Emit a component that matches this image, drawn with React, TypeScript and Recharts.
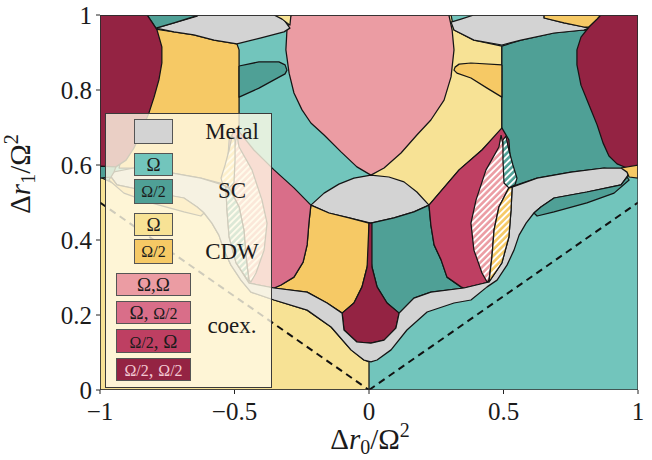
import { ComposedChart, Scatter, XAxis, YAxis } from 'recharts';

type Poly = number[][];

// fill colours of the phases
const C = {
  metal: '#d3d3d3',
  scFull: '#72c5bc',
  scHalf: '#4fa096',
  cdwFull: '#f7e295',
  cdwHalf: '#f6c965',
  coexFF: '#eb9ca3',
  coexFH: '#d96e89',
  coexHF: '#be3f62',
  coexHH: '#942343',
};

// region outlines in (Δr0/Ω², Δr1/Ω²)
const plotFrame: Poly = [[-1, 0], [1, 0], [1, 1], [-1, 1]];

const cdwFullLow: Poly = [[-1, 0.568], [-0.937, 0.547], [-0.81, 0.528], [-0.688, 0.512], [-0.613, 0.472], [-0.584, 0.445], [-0.558, 0.413], [-0.539, 0.373], [-0.513, 0.333], [-0.476, 0.293], [-0.439, 0.261], [-0.353, 0.24], [-0.23, 0.213], [-0.141, 0.168], [-0.067, 0.107], [-0.019, 0.08], [0, 0.075], [0, 0], [-1, 0]];
const cdwFullTop: Poly = [[0.007, 1], [0.305, 1], [0.316, 0.96], [0.39, 0.933], [0.494, 0.917], [0.494, 0.693], [0.42, 0.64], [0.335, 0.587], [0.223, 0.493], [0.007, 0.56]];
const scHalfTop: Poly = [[0.494, 0.917], [0.565, 0.933], [0.688, 0.952], [0.799, 0.96], [1, 0.96], [1, 0.587], [0.959, 0.581], [0.874, 0.592], [0.751, 0.581], [0.625, 0.565], [0.55, 0.547], [0.52, 0.539], [0.502, 0.552], [0.494, 0.667]];
const cdwHalfTop: Poly = [[-0.818, 0.965], [-0.725, 0.955], [-0.651, 0.947], [-0.576, 0.933], [-0.491, 0.923], [-0.483, 0.907], [-0.483, 0.68], [-0.498, 0.64], [-0.528, 0.547], [-0.625, 0.565], [-0.751, 0.581], [-0.874, 0.592], [-0.929, 0.592]];
const coexFFDrop: Poly = [[-0.29, 1], [0.297, 1], [0.309, 0.96], [0.316, 0.907], [0.305, 0.835], [0.279, 0.773], [0.23, 0.72], [0.178, 0.68], [0.119, 0.632], [0.056, 0.592], [0.007, 0.573], [-0.045, 0.595], [-0.104, 0.635], [-0.167, 0.68], [-0.216, 0.712], [-0.249, 0.747], [-0.279, 0.792], [-0.297, 0.845], [-0.309, 0.907], [-0.305, 0.96]];
const metalTopL: Poly = [[-0.792, 0.965], [-0.725, 0.979], [-0.639, 0.997], [-0.639, 1], [-0.342, 1], [-0.316, 0.987], [-0.294, 0.965], [-0.316, 0.955], [-0.401, 0.939], [-0.491, 0.923], [-0.576, 0.933], [-0.651, 0.947], [-0.725, 0.955]];
const metalTopR: Poly = [[0.305, 0.981], [0.342, 0.989], [0.39, 1], [0.651, 1], [0.651, 0.992], [0.725, 0.979], [0.799, 0.968], [0.818, 0.965], [0.799, 0.96], [0.688, 0.952], [0.565, 0.933], [0.494, 0.92], [0.39, 0.933], [0.316, 0.96]];
const scHalfSliver: Poly = [[-0.825, 1], [-0.632, 1], [-0.725, 0.979], [-0.792, 0.965], [-0.807, 0.981]];
const cdwFullSliver: Poly = [[-0.353, 1], [-0.29, 1], [-0.294, 0.973], [-0.323, 0.989]];
const cdwHalfSliver: Poly = [[0.651, 1], [0.862, 1], [0.848, 0.989], [0.818, 0.968], [0.799, 0.968], [0.725, 0.979], [0.651, 0.992]];
const scHalfLobeTop: Poly = [[-0.483, 0.864], [-0.409, 0.875], [-0.335, 0.875], [-0.312, 0.867], [-0.305, 0.853], [-0.312, 0.843], [-0.353, 0.827], [-0.409, 0.805], [-0.483, 0.781]];
const cdwHalfLobeTop: Poly = [[0.494, 0.867], [0.379, 0.872], [0.335, 0.869], [0.32, 0.861], [0.316, 0.853], [0.327, 0.845], [0.379, 0.832], [0.439, 0.805], [0.494, 0.781]];
const coexHHLeft: Poly = [[-1, 1], [-0.825, 1], [-0.807, 0.981], [-0.788, 0.96], [-0.77, 0.915], [-0.77, 0.872], [-0.781, 0.827], [-0.799, 0.781], [-0.818, 0.739], [-0.844, 0.693], [-0.874, 0.645], [-0.903, 0.613], [-0.941, 0.595], [-1, 0.592]];
const coexHHRight: Poly = [[0.862, 1], [1, 1], [1, 0.597], [0.959, 0.592], [0.922, 0.603], [0.892, 0.624], [0.87, 0.659], [0.848, 0.707], [0.818, 0.76], [0.788, 0.813], [0.773, 0.867], [0.773, 0.907], [0.788, 0.941], [0.818, 0.968], [0.848, 0.989]];
const metalMid: Poly = [[-0.216, 0.493], [-0.167, 0.525], [-0.112, 0.549], [-0.056, 0.565], [0.007, 0.573], [0.074, 0.568], [0.13, 0.555], [0.178, 0.528], [0.223, 0.493], [0.167, 0.475], [0.093, 0.459], [0.007, 0.445], [-0.074, 0.459], [-0.149, 0.472]];
const cdwHalfMid: Poly = [[-0.216, 0.493], [-0.149, 0.472], [-0.074, 0.459], [0, 0.445], [0, 0.347], [-0.007, 0.328], [-0.026, 0.275], [-0.056, 0.232], [-0.1, 0.205], [-0.156, 0.232], [-0.23, 0.261], [-0.353, 0.272], [-0.327, 0.28], [-0.279, 0.301], [-0.245, 0.341], [-0.23, 0.387], [-0.223, 0.448]];
const scHalfMid: Poly = [[0.223, 0.493], [0.167, 0.475], [0.093, 0.459], [0.007, 0.445], [0.007, 0.347], [0.011, 0.328], [0.03, 0.275], [0.067, 0.232], [0.112, 0.205], [0.167, 0.245], [0.23, 0.261], [0.353, 0.272], [0.342, 0.275], [0.29, 0.301], [0.268, 0.347], [0.242, 0.387], [0.23, 0.44]];
const coexHHDrop: Poly = [[0, 0.445], [0.011, 0.445], [0.011, 0.328], [0.03, 0.275], [0.067, 0.232], [0.112, 0.205], [0.1, 0.165], [0.056, 0.133], [0.007, 0.125], [-0.045, 0.128], [-0.093, 0.16], [-0.1, 0.205], [-0.056, 0.232], [-0.026, 0.275], [-0.007, 0.328]];
const coexHFRight: Poly = [[0.494, 0.699], [0.52, 0.667], [0.532, 0.541], [0.52, 0.408], [0.494, 0.339], [0.446, 0.288], [0.353, 0.272], [0.342, 0.275], [0.29, 0.301], [0.268, 0.347], [0.242, 0.387], [0.23, 0.44], [0.223, 0.493], [0.335, 0.587], [0.42, 0.64]];
const coexFHLeft: Poly = [[-0.494, 0.699], [-0.52, 0.667], [-0.532, 0.541], [-0.52, 0.408], [-0.494, 0.339], [-0.446, 0.285], [-0.353, 0.272], [-0.327, 0.28], [-0.279, 0.301], [-0.245, 0.341], [-0.23, 0.387], [-0.223, 0.448], [-0.216, 0.493], [-0.279, 0.539], [-0.353, 0.587], [-0.428, 0.64]];
const metalLow: Poly = [
  [-0.967, 0.579], [-0.874, 0.592], [-0.751, 0.581], [-0.625, 0.565], [-0.532, 0.544], [-0.528, 0.48], [-0.52, 0.408], [-0.494, 0.339], [-0.446, 0.285], [-0.353, 0.272], [-0.23, 0.261], [-0.156, 0.232], [-0.1, 0.205], [-0.093, 0.16], [-0.045, 0.128], [0.007, 0.125], [0.056, 0.133], [0.1, 0.165], [0.112, 0.205], [0.167, 0.245], [0.23, 0.261], [0.353, 0.272], [0.446, 0.288], [0.494, 0.339], [0.52, 0.408], [0.528, 0.48], [0.532, 0.541], [0.625, 0.565], [0.751, 0.581], [0.874, 0.592], [0.948, 0.592], [0.967, 0.581],
  [0.959, 0.568], [0.937, 0.547], [0.81, 0.528], [0.688, 0.512], [0.639, 0.488], [0.613, 0.472], [0.584, 0.445], [0.558, 0.413], [0.539, 0.373], [0.513, 0.333], [0.476, 0.293], [0.439, 0.275], [0.379, 0.24], [0.316, 0.232], [0.216, 0.208], [0.141, 0.16], [0.082, 0.107], [0.03, 0.08], [0.007, 0.075], [-0.019, 0.08], [-0.067, 0.107], [-0.141, 0.168], [-0.23, 0.213], [-0.353, 0.24], [-0.439, 0.261], [-0.476, 0.293], [-0.513, 0.333], [-0.539, 0.373], [-0.558, 0.413], [-0.584, 0.445], [-0.613, 0.472], [-0.639, 0.488], [-0.688, 0.512], [-0.81, 0.528], [-0.937, 0.547], [-0.959, 0.568],
];
const scHalfLobeLow: Poly = [[0.613, 0.472], [0.639, 0.488], [0.688, 0.512], [0.81, 0.528], [0.937, 0.547], [0.959, 0.568], [0.967, 0.56], [0.911, 0.525], [0.81, 0.499], [0.688, 0.475], [0.625, 0.464]];
const cdwHalfLobeLow: Poly = [[-0.613, 0.472], [-0.639, 0.488], [-0.688, 0.512], [-0.81, 0.528], [-0.937, 0.547], [-0.959, 0.568], [-0.967, 0.56], [-0.911, 0.525], [-0.81, 0.499], [-0.688, 0.475], [-0.625, 0.464]];
const scHalfEdge: Poly = [[-1, 0.597], [-0.941, 0.595], [-0.948, 0.581], [-0.959, 0.568], [-1, 0.565]];
const cdwHalfEdge: Poly = [[0.937, 0.592], [1, 0.6], [1, 0.565], [0.967, 0.568], [0.959, 0.581]];

// hatched pockets (superconducting order on top of a coexistence phase)
const coexFFHatchR: Poly = [[0.491, 0.68], [0.502, 0.64], [0.509, 0.587], [0.52, 0.539], [0.483, 0.488], [0.465, 0.427], [0.457, 0.355], [0.446, 0.293], [0.439, 0.288], [0.42, 0.312], [0.39, 0.373], [0.379, 0.445], [0.398, 0.507], [0.435, 0.587], [0.483, 0.648]];
const cdwHalfHatchR: Poly = [[0.52, 0.539], [0.532, 0.541], [0.528, 0.48], [0.52, 0.408], [0.494, 0.339], [0.446, 0.288], [0.457, 0.355], [0.465, 0.427], [0.483, 0.488]];
const scHalfHatchR: Poly = [[0.498, 0.667], [0.509, 0.677], [0.52, 0.64], [0.535, 0.6], [0.55, 0.565], [0.543, 0.547], [0.52, 0.539], [0.502, 0.552], [0.498, 0.613]];
const coexFFHatchL: Poly = [[-0.491, 0.68], [-0.502, 0.64], [-0.509, 0.587], [-0.52, 0.539], [-0.483, 0.488], [-0.465, 0.427], [-0.457, 0.355], [-0.446, 0.293], [-0.439, 0.288], [-0.42, 0.312], [-0.39, 0.373], [-0.379, 0.445], [-0.398, 0.507], [-0.435, 0.587], [-0.483, 0.648]];
const scHalfHatchL: Poly = [[-0.52, 0.539], [-0.532, 0.541], [-0.528, 0.48], [-0.52, 0.408], [-0.494, 0.339], [-0.446, 0.288], [-0.457, 0.355], [-0.465, 0.427], [-0.483, 0.488]];
const cdwHalfHatchL: Poly = [[-0.498, 0.667], [-0.509, 0.677], [-0.52, 0.64], [-0.535, 0.6], [-0.55, 0.565], [-0.543, 0.547], [-0.52, 0.539], [-0.502, 0.552], [-0.498, 0.613]];

// |Δr0| = 2 Δr1 guide lines
const guideLeft: Poly = [[-1, 0.5], [0, 0]];
const guideRight: Poly = [[0, 0], [1, 0.5]];

const xTicks = [-1, -0.5, 0, 0.5, 1];
const yTicks = [0, 0.2, 0.4, 0.6, 0.8, 1];

const layers: { id: string; pts: Poly; fill: string; edge?: boolean }[] = [
  { id: 'scFullBack', pts: plotFrame, fill: C.scFull, edge: false },
  { id: 'cdwFullLow', pts: cdwFullLow, fill: C.cdwFull },
  { id: 'cdwFullTop', pts: cdwFullTop, fill: C.cdwFull },
  { id: 'scHalfTop', pts: scHalfTop, fill: C.scHalf },
  { id: 'cdwHalfTop', pts: cdwHalfTop, fill: C.cdwHalf },
  { id: 'coexFFDrop', pts: coexFFDrop, fill: C.coexFF },
  { id: 'metalTopL', pts: metalTopL, fill: C.metal },
  { id: 'metalTopR', pts: metalTopR, fill: C.metal },
  { id: 'scHalfSliver', pts: scHalfSliver, fill: C.scHalf },
  { id: 'cdwFullSliver', pts: cdwFullSliver, fill: C.cdwFull },
  { id: 'cdwHalfSliver', pts: cdwHalfSliver, fill: C.cdwHalf },
  { id: 'scHalfLobeTop', pts: scHalfLobeTop, fill: C.scHalf },
  { id: 'cdwHalfLobeTop', pts: cdwHalfLobeTop, fill: C.cdwHalf },
  { id: 'coexHHLeft', pts: coexHHLeft, fill: C.coexHH },
  { id: 'coexHHRight', pts: coexHHRight, fill: C.coexHH },
  { id: 'metalMid', pts: metalMid, fill: C.metal },
  { id: 'cdwHalfMid', pts: cdwHalfMid, fill: C.cdwHalf },
  { id: 'scHalfMid', pts: scHalfMid, fill: C.scHalf },
  { id: 'coexHHDrop', pts: coexHHDrop, fill: C.coexHH },
  { id: 'coexHFRight', pts: coexHFRight, fill: C.coexHF },
  { id: 'coexFHLeft', pts: coexFHLeft, fill: C.coexFH },
  { id: 'metalLow', pts: metalLow, fill: C.metal },
  { id: 'scHalfLobeLow', pts: scHalfLobeLow, fill: C.scHalf },
  { id: 'cdwHalfLobeLow', pts: cdwHalfLobeLow, fill: C.cdwHalf },
  { id: 'scHalfEdge', pts: scHalfEdge, fill: C.scHalf },
  { id: 'cdwHalfEdge', pts: cdwHalfEdge, fill: C.cdwHalf },
  { id: 'coexFFHatchR', pts: coexFFHatchR, fill: 'url(#hatch-coexFF)' },
  { id: 'cdwHalfHatchR', pts: cdwHalfHatchR, fill: 'url(#hatch-cdwHalf)' },
  { id: 'scHalfHatchR', pts: scHalfHatchR, fill: 'url(#hatch-scHalf)' },
  { id: 'coexFFHatchL', pts: coexFFHatchL, fill: 'url(#hatch-coexFF)' },
  { id: 'scHalfHatchL', pts: scHalfHatchL, fill: 'url(#hatch-scHalf)' },
  { id: 'cdwHalfHatchL', pts: cdwHalfHatchL, fill: 'url(#hatch-cdwHalf)' },
];

const toPts = (p: Poly) => [...p, p[0]].map(([x, y]) => ({ x, y }));
const noDot = () => <g />;
const fmtX = (v: number) => (v < 0 ? `\u2212${Math.abs(v)}` : `${v}`);

const serif = '"Liberation Serif", "DejaVu Serif", serif';

const hatches = [
  { id: 'hatch-coexFF', color: C.coexFF },
  { id: 'hatch-cdwHalf', color: C.cdwHalf },
  { id: 'hatch-scHalf', color: C.scHalf },
];

const legendPatches = [
  { top: 5, left: 28, w: 39, h: 25, fill: C.metal, text: null },
  { top: 39, left: 28, w: 39, h: 23, fill: C.scFull, text: ['Ω'] },
  { top: 65, left: 28, w: 39, h: 25, fill: C.scHalf, text: ['Ω/2'] },
  { top: 99, left: 28, w: 39, h: 23, fill: C.cdwFull, text: ['Ω'] },
  { top: 125, left: 28, w: 39, h: 25, fill: C.cdwHalf, text: ['Ω/2'] },
  { top: 159, left: 10, w: 75, h: 23, fill: C.coexFF, text: ['Ω,Ω'] },
  { top: 187, left: 10, w: 75, h: 23, fill: C.coexFH, text: ['Ω, ', 'Ω/2'] },
  { top: 215, left: 10, w: 75, h: 24, fill: C.coexHF, text: ['Ω/2', ', Ω'] },
  { top: 244, left: 10, w: 75, h: 23, fill: C.coexHH, text: ['Ω/2', ', ', 'Ω/2'], light: true },
];

const legendLabels = [
  { top: 18, text: 'Metal' },
  { top: 77, text: 'SC' },
  { top: 138, text: 'CDW' },
  { top: 212, text: 'coex.' },
];

function PatchText({ parts, light }: { parts: string[]; light?: boolean }) {
  return (
    <span style={{ color: light ? '#f3c9d3' : '#1b1b1b', fontFamily: serif, whiteSpace: 'pre' }}>
      {parts.map((p, i) => (
        <span key={i} style={{ fontSize: p === 'Ω/2' ? 16 : 19 }}>{p}</span>
      ))}
    </span>
  );
}

export default function App() {
  return (
    <div style={{ position: 'absolute', left: 0, top: 0, width: 652, height: 460, background: '#fff' }}>
      <svg width={0} height={0} style={{ position: 'absolute' }}>
        <defs>
          {hatches.map((h) => (
            <pattern key={h.id} id={h.id} patternUnits="userSpaceOnUse" width={4.5} height={4.5} patternTransform="rotate(-45)">
              <rect width={4.5} height={4.5} fill={h.color} />
              <rect width={4.5} height={1.9} fill="#ffffff" />
            </pattern>
          ))}
        </defs>
      </svg>
      <ComposedChart width={652} height={460} margin={{ top: 15, right: 14, bottom: 30, left: 40 }}>
        <XAxis
          type="number"
          dataKey="x"
          domain={[-1, 1]}
          allowDataOverflow
          ticks={xTicks}
          tickFormatter={fmtX}
          axisLine={false}
          tickLine={{ stroke: '#222' }}
          tickSize={4}
          tickMargin={8}
          height={40}
          tick={{ fontFamily: serif, fontSize: 25, fill: '#1b1b1b' }}
        />
        <YAxis
          type="number"
          dataKey="y"
          domain={[0, 1]}
          allowDataOverflow
          ticks={yTicks}
          axisLine={false}
          tickLine={{ stroke: '#222' }}
          tickSize={4}
          tickMargin={4}
          width={60}
          tick={{ fontFamily: serif, fontSize: 25, fill: '#1b1b1b' }}
        />
        {layers.map((l) => (
          <Scatter
            key={l.id}
            name={l.id}
            data={toPts(l.pts)}
            shape={noDot}
            line={{ fill: l.fill, stroke: l.edge === false ? 'none' : '#151515', strokeWidth: 1.25, strokeLinejoin: 'round' }}
            lineType="joint"
            isAnimationActive={false}
          />
        ))}
        <Scatter
          data={guideLeft.map(([x, y]) => ({ x, y }))}
          shape={noDot}
          line={{ stroke: '#111', strokeWidth: 2, strokeDasharray: '7 5' }}
          isAnimationActive={false}
        />
        <Scatter
          data={guideRight.map(([x, y]) => ({ x, y }))}
          shape={noDot}
          line={{ stroke: '#111', strokeWidth: 2, strokeDasharray: '7 5' }}
          isAnimationActive={false}
        />
        <Scatter
          data={toPts(plotFrame)}
          shape={noDot}
          line={{ fill: 'none', stroke: '#333', strokeWidth: 1.3 }}
          isAnimationActive={false}
        />
      </ComposedChart>

      {/* legend box */}
      <div
        style={{
          position: 'absolute',
          left: 105,
          top: 113,
          width: 167,
          height: 275,
          boxSizing: 'border-box',
          border: '1.3px solid #3a3a3a',
          background: 'rgba(255, 250, 230, 0.8)',
        }}
      >
        {legendPatches.map((p, i) => (
          <div
            key={i}
            style={{
              position: 'absolute',
              left: p.left,
              top: p.top,
              width: p.w,
              height: p.h,
              boxSizing: 'border-box',
              border: '1px solid #555',
              background: p.fill,
              display: 'flex',
              alignItems: 'center',
              justifyContent: 'center',
              lineHeight: 1,
            }}
          >
            {p.text && <PatchText parts={p.text} light={p.light} />}
          </div>
        ))}
        {legendLabels.map((l) => (
          <div
            key={l.text}
            style={{
              position: 'absolute',
              left: 76,
              width: 100,
              top: l.top - 13,
              height: 26,
              lineHeight: '26px',
              textAlign: 'center',
              fontFamily: serif,
              fontSize: 23,
              color: '#1b1b1b',
            }}
          >
            {l.text}
          </div>
        ))}
      </div>

      {/* axis titles */}
      <svg width={652} height={460} style={{ position: 'absolute', left: 0, top: 0, pointerEvents: 'none' }}>
        <text x={370} y={449} textAnchor="middle" fontFamily={serif} fontSize={29} fill="#1b1b1b">
          Δ<tspan fontStyle="italic">r</tspan>
          <tspan fontSize={20} dy={5}>0</tspan>
          <tspan dy={-5}>/Ω</tspan>
          <tspan fontSize={20} dy={-12}>2</tspan>
        </text>
        <text transform="translate(30,174) rotate(-90)" textAnchor="middle" fontFamily={serif} fontSize={29} fill="#1b1b1b">
          Δ<tspan fontStyle="italic">r</tspan>
          <tspan fontSize={20} dy={5}>1</tspan>
          <tspan dy={-5}>/Ω</tspan>
          <tspan fontSize={20} dy={-12}>2</tspan>
        </text>
      </svg>
    </div>
  );
}
